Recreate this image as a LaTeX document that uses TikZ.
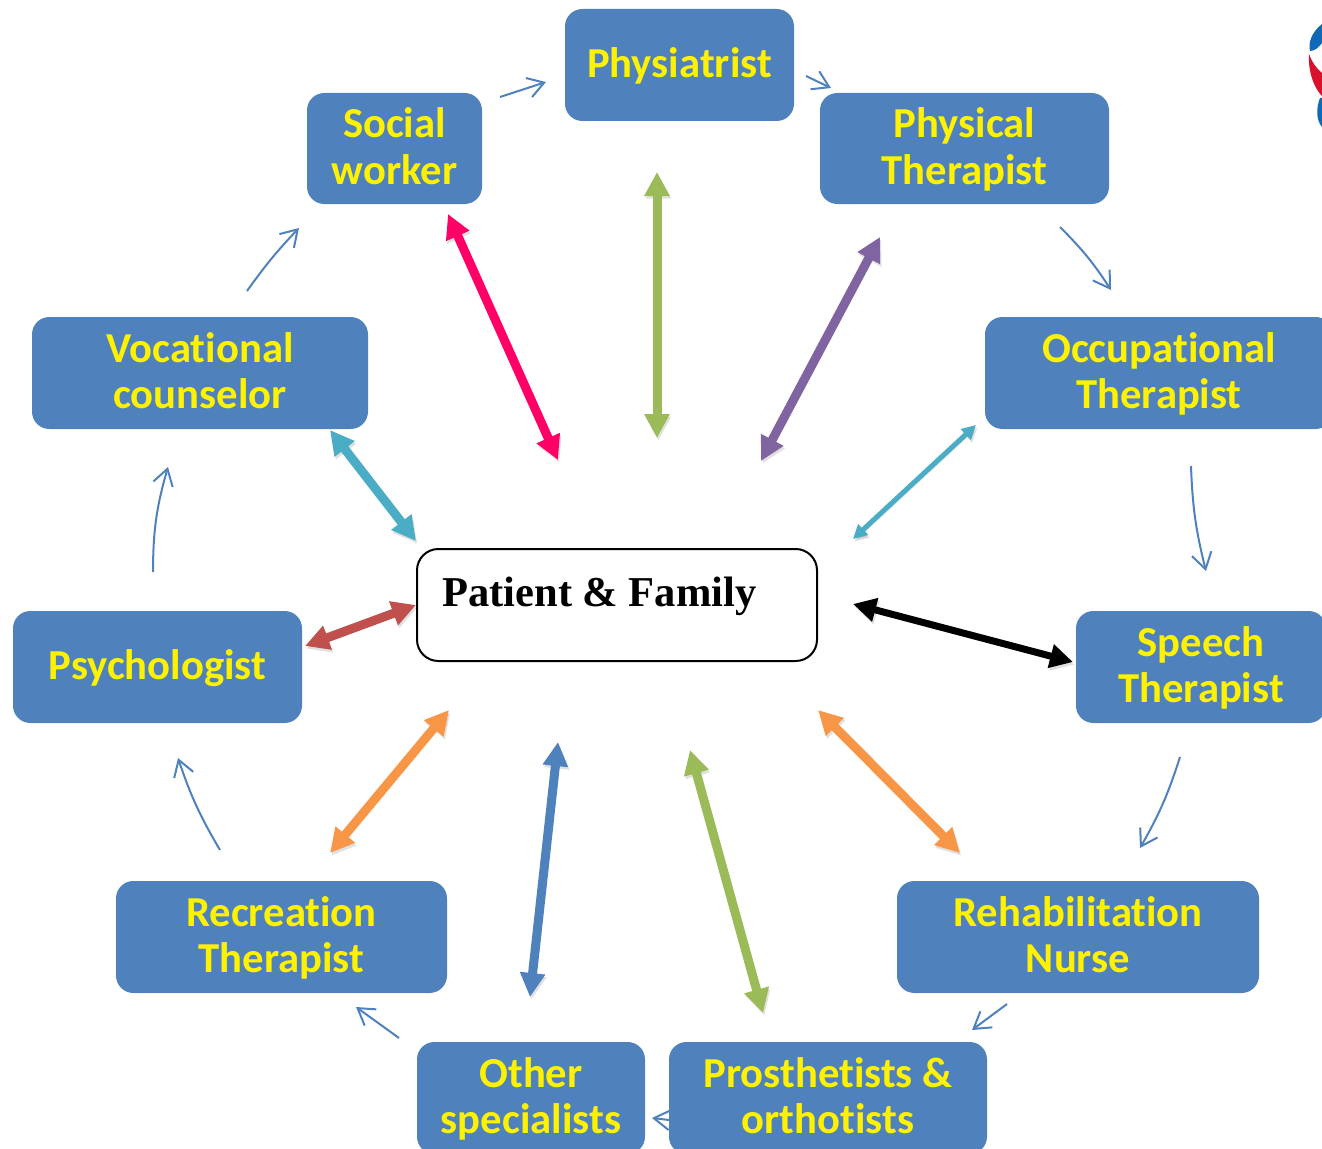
\documentclass[tikz,border=0pt]{standalone}
\usepackage{fontspec}
\setmainfont{Carlito}[Ligatures=CommonOff]
\newfontfamily\serifbold{Liberation Serif}[Ligatures=TeX]
\usetikzlibrary{arrows.meta}
\definecolor{boxblue}{HTML}{4F81BD}
\definecolor{arrowpink}{HTML}{FF0066}
\definecolor{arrowgreen}{HTML}{9BBB59}
\definecolor{arrowpurple}{HTML}{8064A2}
\definecolor{arrowteal}{HTML}{4BACC6}
\definecolor{arroworange}{HTML}{F79646}
\definecolor{arrowred}{HTML}{C0504D}
\definecolor{logored}{HTML}{D8102C}
\definecolor{logoblue}{HTML}{0F69B4}
\newcommand\tstrut{\vrule width 0pt height 26.9pt depth 8pt\relax}
\tikzset{
  team/.style 2 args={fill=boxblue,draw=none,rounded corners=13pt,inner sep=0pt,
    minimum width=#1*0.75pt,minimum height=#2*0.75pt,align=center,text=yellow,
    font=\fontsize{32}{34.9}\selectfont\bfseries},
  flow/.style={draw=boxblue,line width=1.5pt,-{Straight Barb[length=12pt,width=15pt,line width=1.5pt]}},
  link/.style n args={3}{draw=#1,line width=#2*0.75pt,
    {Triangle[length=#3*0.75pt,width=#3*0.75pt]}-{Triangle[length=#3*0.75pt,width=#3*0.75pt]},
    preaction={draw=black,opacity=0.12,transform canvas={xshift=1pt,yshift=-2pt}}},
}
\begin{document}
\begin{tikzpicture}[x=0.75pt,y=-0.75pt]
\useasboundingbox (0,0) rectangle (1322,1149);
% logo at the page edge
\fill[logoblue] (1322,24) .. controls (1312,32) and (1308,42) .. (1310,51) .. controls (1315,51) and (1319,47) .. (1322,43) -- cycle;
\fill[logored] (1309,54) .. controls (1308,72) and (1314,88) .. (1322,96) -- (1322,73) .. controls (1316,68) and (1312,62) .. cycle;
\fill[logoblue] (1322,98) -- (1320,98) .. controls (1316,108) and (1316,120) .. (1322,127) -- cycle;

% this arrow runs behind the Prosthetists box
\coordinate (prosthc) at (828,1098);
\coordinate (otherc) at (531,1098);
\draw[flow] ([shift={(-159,22)}]prosthc) -- ([shift={(121,20)}]otherc);

% team nodes
\node[team={229}{112}] (physiatrist) at (679.5,65) {\tstrut Physiatrist};
\node[team={175}{111}] (social) at (394.5,148.5) {\tstrut Social\\\tstrut worker};
\node[team={289}{111}] (physical) at (964.5,148.5) {\tstrut Physical\\\tstrut Therapist};
\node[team={336}{112}] (vocational) at (200,373) {\tstrut Vocational\\\tstrut counselor};
\node[team={348}{112}] (occupational) at (1159,373) {\tstrut Occupational\\\tstrut Therapist};
\node[team={289}{112}] (psychologist) at (157.5,667) {\tstrut Psychologist};
\node[team={250}{112}] (speech) at (1201,667) {\tstrut Speech\\\tstrut Therapist};
\node[team={331}{112}] (recreation) at (281.5,937) {\tstrut Recreation\\\tstrut Therapist};
\node[team={362}{112}] (rehab) at (1078,937) {\tstrut Rehabilitation\\\tstrut Nurse};
\node[team={228}{112}] (other) at (otherc) {\tstrut Other\\\tstrut specialists};
\node[team={318}{112}] (prosthetists) at (prosthc) {\tstrut Prosthetists \&\\\tstrut orthotists};

% centre node
\node[draw=black,line width=1.5pt,fill=white,rounded corners=16pt,minimum width=400*0.75pt,minimum height=112*0.75pt,inner sep=0pt] (patient) at (617,605) {};
\node[anchor=base west,inner sep=0pt,font=\serifbold\fontsize{31.9}{36}\selectfont\bfseries] (patientlabel) at (442,606) {Patient \& Family};

% ring of thin arrows
\draw[flow] ([shift={(105.5,-51.5)}]social.center) -- ([shift={(-133.5,17)}]physiatrist.center);
\draw[flow] ([shift={(126.5,11)}]physiatrist.center) -- ([shift={(-133.5,-60.5)}]physical.center);
\draw[flow] ([shift={(95.5,78.5)}]physical.center) to[bend left=6] ([shift={(-48,-83)}]occupational.center);
\draw[flow] ([shift={(32,93)}]occupational.center) to[bend right=6] ([shift={(5,-96)}]speech.center);
\draw[flow] ([shift={(-21,90)}]speech.center) to[bend left=6] ([shift={(62,-89)}]rehab.center);
\draw[flow] ([shift={(-71,67)}]rehab.center) -- ([shift={(144,-68)}]prosthetists.center);
\draw[flow] ([shift={(-132,-60)}]other.center) -- ([shift={(74.5,70)}]recreation.center);
\draw[flow] ([shift={(-61.5,-87)}]recreation.center) to[bend left=6] ([shift={(20.5,91)}]psychologist.center);
\draw[flow] ([shift={(-4.5,-95)}]psychologist.center) to[bend left=8] ([shift={(-32,94)}]vocational.center);
\draw[flow] ([shift={(47,-82)}]vocational.center) to[bend left=4] ([shift={(-95.5,79.5)}]social.center);

% double arrows to the centre
\path[link={arrowpink}{9}{24}] ([shift={(53.5,65.5)}]social.center) -- ([shift={(-59,-145)}]patient.center);
\path[link={arrowgreen}{9}{24}] ([shift={(-22.5,107)}]physiatrist.center) -- ([shift={(40,-167)}]patient.center);
\path[link={arrowpurple}{9}{24}] ([shift={(-84.5,88.5)}]physical.center) -- ([shift={(144,-144)}]patient.center);
\path[link={arrowteal}{5}{14}] ([shift={(-183,52)}]occupational.center) -- ([shift={(236,-66)}]patient.center);
\path[link={black}{7}{23}] ([shift={(-128,-5)}]speech.center) -- ([shift={(236,-1)}]patient.center);
\path[link={arroworange}{9}{24}] ([shift={(-118,-84)}]rehab.center) -- ([shift={(201,105)}]patient.center);
\path[link={arrowgreen}{9}{24}] ([shift={(-65,-85)}]prosthetists.center) -- ([shift={(73,145)}]patient.center);
\path[link={boxblue}{9}{24}] ([shift={(-1,-101)}]other.center) -- ([shift={(-59,137)}]patient.center);
\path[link={arroworange}{9}{24}] ([shift={(48.5,-84)}]recreation.center) -- ([shift={(-168,105)}]patient.center);
\path[link={arrowred}{9}{24}] ([shift={(147.5,-21)}]psychologist.center) -- ([shift={(-201,0)}]patient.center);
\path[link={arrowteal}{9}{24}] ([shift={(130,57)}]vocational.center) -- ([shift={(-201,-64)}]patient.center);
\end{tikzpicture}
\end{document}
